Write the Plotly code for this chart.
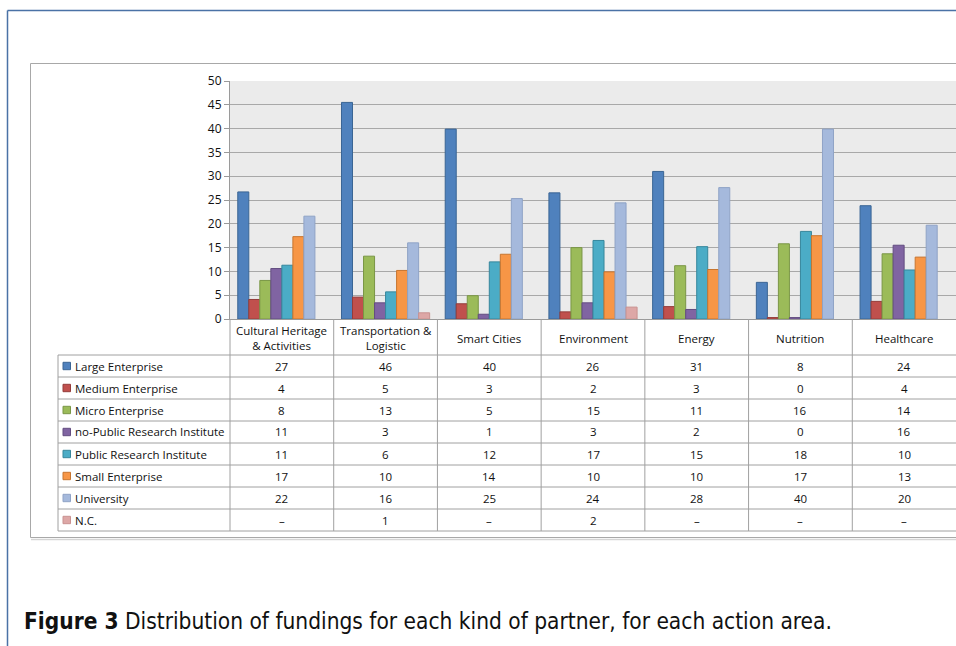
import plotly.graph_objects as go

# ---------------- data ----------------
categories = ["Cultural Heritage<br>& Activities", "Transportation &<br>Logistic",
              "Smart Cities", "Environment", "Energy", "Nutrition", "Healthcare"]
series_names = ["Large Enterprise", "Medium Enterprise", "Micro Enterprise",
                "no-Public Research Institute", "Public Research Institute",
                "Small Enterprise", "University", "N.C."]

# bar heights
large_enterprise = [26.7, 45.5, 39.9, 26.5, 31.0, 7.7, 23.8]
medium_enterprise = [4.1, 4.6, 3.2, 1.5, 2.6, 0.3, 3.7]
micro_enterprise = [8.1, 13.2, 4.9, 15.0, 11.2, 15.8, 13.7]
nopublic_research = [10.6, 3.4, 1.0, 3.4, 2.0, 0.3, 15.5]
public_research = [11.3, 5.7, 12.0, 16.5, 15.2, 18.4, 10.3]
small_enterprise = [17.3, 10.2, 13.6, 9.9, 10.4, 17.5, 13.0]
university = [21.6, 16.0, 25.3, 24.4, 27.6, 39.9, 19.7]
nc = [None, 1.3, None, 2.5, None, None, None]

# data table text as printed below the chart
table_large = ["27", "46", "40", "26", "31", "8", "24"]
table_medium = ["4", "5", "3", "2", "3", "0", "4"]
table_micro = ["8", "13", "5", "15", "11", "16", "14"]
table_nopublic = ["11", "3", "1", "3", "2", "0", "16"]
table_public = ["11", "6", "12", "17", "15", "18", "10"]
table_small = ["17", "10", "14", "10", "10", "17", "13"]
table_university = ["22", "16", "25", "24", "28", "40", "20"]
table_nc = ["–", "1", "–", "2", "–", "–", "–"]

y_ticks = [0, 5, 10, 15, 20, 25, 30, 35, 40, 45, 50]

caption_bold = "Figure 3"
caption_text = "Distribution of fundings for each kind of partner, for each action area."

# ---------------- styling ----------------
colors = ["#4F81BD", "#C0504D", "#9BBB59", "#8064A2", "#4BACC6", "#F79646", "#A5B9DC", "#DDA7A6"]
edges = ["#3A6594", "#943C3A", "#7A9646", "#634D80", "#37879C", "#C7752F", "#8FA3C6", "#C99290"]

W, H = 956, 646
FONT = "Open Sans"
TXT = "#111111"
FS = 11.5


def px(x):
    return x / W


def py(y):
    return 1 - y / H


all_vals = [large_enterprise, medium_enterprise, micro_enterprise, nopublic_research,
            public_research, small_enterprise, university, nc]
all_tab = [table_large, table_medium, table_micro, table_nopublic,
           table_public, table_small, table_university, table_nc]

fig = go.Figure()
for name, vals, c, e in zip(series_names, all_vals, colors, edges):
    fig.add_trace(go.Bar(x=categories, y=vals, name=name,
                         marker=dict(color=c, line=dict(color=e, width=1)),
                         showlegend=False))

PLOT_L, PLOT_R, PLOT_T, PLOT_B = 230, 956, 81, 319

fig.update_layout(
    width=W, height=H,
    margin=dict(l=0, r=0, t=0, b=0, pad=0, autoexpand=False),
    paper_bgcolor="white",
    plot_bgcolor="#EBEBEB",
    barmode="group", bargap=0.15, bargroupgap=0,
    font=dict(family=FONT, size=FS, color=TXT),
    xaxis=dict(domain=[px(PLOT_L), min(1.0, px(PLOT_R))], showticklabels=False, ticks="",
               showline=True, linecolor="#9a9a9a", linewidth=1, showgrid=False,
               automargin=False, fixedrange=True),
    yaxis=dict(domain=[py(PLOT_B), py(PLOT_T)], range=[0, 50], tickvals=y_ticks,
               showgrid=True, gridcolor="#A8A8A8", gridwidth=1,
               showline=True, linecolor="#9a9a9a", linewidth=1,
               ticks="outside", ticklen=5, tickcolor="#9a9a9a",
               tickfont=dict(family=FONT, size=12, color=TXT), zeroline=False,
               automargin=False, fixedrange=True),
)

shapes = []
annotations = []

# outer blue frame
shapes.append(dict(type="line", xref="paper", yref="paper", x0=px(7.5), x1=px(960),
                   y0=py(10.5), y1=py(10.5), line=dict(color="#4A72A6", width=1.5)))
shapes.append(dict(type="line", xref="paper", yref="paper", x0=px(7.5), x1=px(7.5),
                   y0=py(10.5), y1=py(660), line=dict(color="#4A72A6", width=1.5)))
# inner gray chart box
shapes.append(dict(type="rect", xref="paper", yref="paper", x0=px(30.5), x1=px(965),
                   y0=py(537.5), y1=py(63.5), line=dict(color="#A8A8A8", width=1)))
shapes.append(dict(type="line", xref="paper", yref="paper", x0=px(31), x1=px(965),
                   y0=py(539.5), y1=py(539.5), line=dict(color="#D5D5D5", width=1.5)))

# table grid
GRID = "#A0A0A0"
col_w = (PLOT_R - PLOT_L) / len(categories)
col_edges = [PLOT_L + i * col_w for i in range(len(categories) + 1)]
row_lines = [355, 377, 399, 421, 443, 465, 487, 509, 531]
for y in row_lines:
    shapes.append(dict(type="line", xref="paper", yref="paper", x0=px(58), x1=px(960),
                       y0=py(y), y1=py(y), line=dict(color=GRID, width=1)))
shapes.append(dict(type="line", xref="paper", yref="paper", x0=px(58), x1=px(58),
                   y0=py(355), y1=py(531), line=dict(color=GRID, width=1)))
for x in col_edges[:-1]:
    shapes.append(dict(type="line", xref="paper", yref="paper", x0=px(x), x1=px(x),
                       y0=py(319), y1=py(531), line=dict(color=GRID, width=1)))

# header labels
for i, cat in enumerate(categories):
    cx = PLOT_L + (i + 0.5) * col_w
    annotations.append(dict(xref="paper", yref="paper", x=px(cx), y=py(338),
                            text=cat, showarrow=False, xanchor="center", yanchor="middle",
                            font=dict(family=FONT, size=FS, color=TXT)))

# rows
for r, (name, tab, c, e) in enumerate(zip(series_names, all_tab, colors, edges)):
    yc = row_lines[r] + 11
    shapes.append(dict(type="rect", xref="paper", yref="paper", x0=px(63), x1=px(70.5),
                       y0=py(yc + 3.7), y1=py(yc - 3.7), fillcolor=c,
                       line=dict(color=e, width=1)))
    annotations.append(dict(xref="paper", yref="paper", x=px(72.5), y=py(yc),
                            text=name, showarrow=False, xanchor="left", yanchor="middle",
                            font=dict(family=FONT, size=FS, color=TXT)))
    for i, t in enumerate(tab):
        cx = PLOT_L + (i + 0.5) * col_w
        annotations.append(dict(xref="paper", yref="paper", x=px(cx), y=py(yc),
                                text=t, showarrow=False, xanchor="center", yanchor="middle",
                                font=dict(family=FONT, size=FS, color=TXT)))

# caption
annotations.append(dict(xref="paper", yref="paper", x=px(22), y=py(621),
                        text="<b>" + caption_bold + "</b> " + caption_text,
                        showarrow=False, xanchor="left", yanchor="middle",
                        font=dict(family="DejaVu Sans Condensed", size=22.5, color="#111111")))

fig.update_layout(shapes=shapes, annotations=annotations)
fig.write_html(
    "out.html",
    config={"displayModeBar": False},
    post_script=(
        "document.documentElement.style.margin='0';"
        "document.documentElement.style.padding='0';"
        "document.documentElement.style.overflow='hidden';"
        "document.body.style.margin='0';"
        "document.body.style.padding='0';"
        "document.body.style.overflow='hidden';"
        "window.scrollTo(0,0);"
    ),
)
